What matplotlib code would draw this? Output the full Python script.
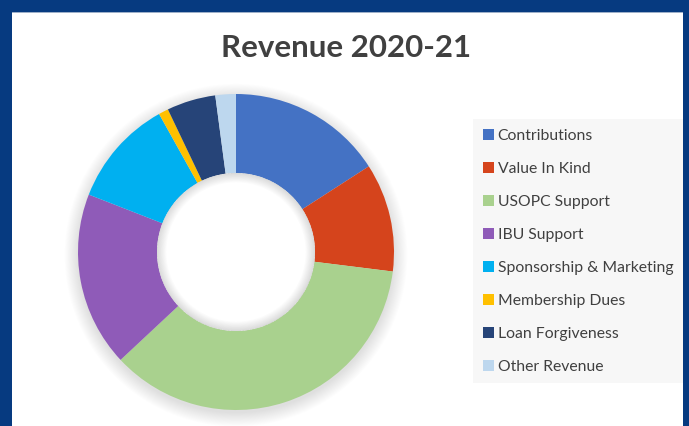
import matplotlib.pyplot as plt
import numpy as np
from matplotlib.patches import Circle, Rectangle, Wedge

plt.rcParams['font.family'] = ['Lato', 'DejaVu Sans']

# revenue shares (percent)
categories = ["Contributions", "Value In Kind", "USOPC Support", "IBU Support",
              "Sponsorship & Marketing", "Membership Dues", "Loan Forgiveness",
              "Other Revenue"]
shares = [15.9, 11.1, 36.1, 17.9, 11.0, 1.0, 5.0, 2.1]
colors = ["#4472C4", "#D5441C", "#A9D18E", "#8F5BB8",
          "#00B0F0", "#FFC000", "#264478", "#BDD7EE"]

W, H = 689, 426
navy = "#063A80"
fig = plt.figure(figsize=(W / 100, H / 100), dpi=100, facecolor=navy)

# white slide panel inside the navy frame
fig.patches.append(Rectangle((12 / W, 0), 671 / W, 414 / H, transform=fig.transFigure,
                             facecolor="white", edgecolor="none", zorder=-2))
fig.patches.append(Rectangle((12 / W, 413 / H), 671 / W, 1.5 / H, transform=fig.transFigure,
                             facecolor="#9DAFC8", edgecolor="none", zorder=-1))

fig.text(346 / W, 1 - 48 / H, "Revenue 2020-21", ha="center", va="center",
         fontsize=22.5, fontweight="bold", color="#404040")

# donut: centre (236, 252) px, outer radius 158 px
cx, cy, R, S = 236, 252, 158, 340
ax = fig.add_axes([(cx - S / 2) / W, (H - cy - S / 2) / H, S / W, S / H])
lim = S / 2 / R

# soft drop shadow behind the ring
for r in np.linspace(1.0, 1.085, 16):
    ax.add_patch(Circle((0, -0.02), r, color="black", alpha=0.009, lw=0,
                        zorder=0, clip_on=False))

wedges, _ = ax.pie(shares, colors=colors, startangle=90, counterclock=False,
                   radius=1, wedgeprops=dict(width=0.5, linewidth=0))
ax.set_xlim(-lim, lim)
ax.set_ylim(-lim, lim)
ax.axis("off")

# white hole with a faint inner shadow along its rim
ax.add_patch(Circle((0, 0), 0.5, color="white", lw=0, zorder=2))
for d in np.linspace(0.005, 0.06, 12):
    ax.add_patch(Wedge((0, 0), 0.5, 0, 360, width=d, color="black", alpha=0.012,
                       lw=0, zorder=3))

leg = fig.legend(wedges, categories, loc="upper left",
                 bbox_to_anchor=(473 / W, 1 - 119 / H), bbox_transform=fig.transFigure,
                 frameon=True, facecolor="#F7F7F7", edgecolor="none", fancybox=False,
                 framealpha=1, fontsize=11.3, labelcolor="#404040",
                 labelspacing=1.21, handlelength=0.7, handleheight=0.7,
                 handletextpad=0.25, borderpad=0.62, borderaxespad=0)

# right edge of the navy frame sits over the legend box
fig.patches.append(Rectangle((683 / W, 0), 6 / W, 1, transform=fig.transFigure,
                             facecolor=navy, edgecolor="none", zorder=10))

fig.savefig("out.png", dpi=100, facecolor=fig.get_facecolor())
